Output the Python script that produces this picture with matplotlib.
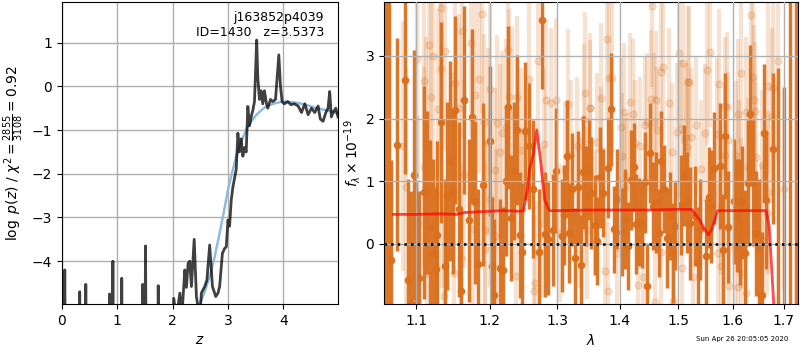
import matplotlib
matplotlib.use('Agg')
import matplotlib.pyplot as plt
import numpy as np

# ---- left panel: log p(z) ----
z_grid = [0.00, 0.04, 0.05, 0.06, 0.31, 0.32, 0.33, 0.42, 0.43, 0.44,
          0.85, 0.86, 0.87, 0.91, 0.92, 0.93, 1.07, 1.08, 1.09,
          1.45, 1.46, 1.47, 1.50, 1.51, 1.52, 1.73, 1.74, 1.75,
          1.99, 2.02, 2.07, 2.13, 2.17, 2.22, 2.25, 2.28, 2.31, 2.34, 2.39,
          2.43, 2.49, 2.52, 2.58, 2.62, 2.67, 2.72, 2.78, 2.82, 2.85, 2.90,
          2.94, 2.97, 3.00, 3.03, 3.06, 3.09, 3.12, 3.15, 3.18, 3.21, 3.24,
          3.27, 3.30, 3.33, 3.36, 3.39, 3.42, 3.45, 3.48, 3.52, 3.54, 3.57,
          3.60, 3.63, 3.66, 3.69, 3.72, 3.77, 3.81, 3.86, 3.89, 3.92, 3.95,
          3.98, 4.02, 4.08, 4.14, 4.20, 4.27, 4.33, 4.39, 4.45, 4.51, 4.57,
          4.63, 4.67, 4.72, 4.77, 4.81, 4.84, 4.87, 4.90, 4.95, 4.99]
logpz = [-6.0, -6.0, -4.2, -6.0, -6.0, -4.7, -6.0, -6.0, -4.53, -6.0,
         -6.0, -4.75, -6.0, -6.0, -4.0, -6.0, -6.0, -4.39, -6.0,
         -6.0, -4.53, -6.0, -6.0, -3.65, -6.0, -6.0, -4.56, -6.0,
         -6.0, -4.85, -5.3, -4.73, -5.2, -4.2, -4.6, -4.05, -4.0, -4.58, -3.5,
         -4.81, -5.3, -4.73, -4.58, -4.43, -3.63, -4.58, -4.81, -4.73, -4.58, -3.82,
         -3.71, -3.67, -3.06, -3.2, -2.6, -2.3, -2.1, -1.9, -1.07, -1.5, -1.2,
         -1.6, -1.4, -1.5, -0.46, -0.9, -0.7, -0.55, -0.35, 1.06, 0.2, -0.3,
         -0.1, -0.4, -0.1, -0.35, -0.5, -0.3, -0.35, -0.3, 0.2, 0.72, 0.0,
         -0.35, -0.4, -0.35, -0.42, -0.4, -0.45, -0.6, -0.4, -0.65, -0.5, -0.6,
         -0.45, -0.75, -0.8, -0.6, -0.5, -0.12, -0.7, -0.6, -0.5, -0.7]

z_smooth = [2.45, 2.49, 2.58, 2.67, 2.76, 2.85, 2.93, 3.00, 3.07, 3.15,
            3.24, 3.33, 3.42, 3.51, 3.60, 3.69, 3.84, 3.99, 4.15, 4.30,
            4.45, 4.60, 4.80, 4.99]
logp_smooth = [-5.3, -4.98, -4.7, -4.35, -3.9, -3.36, -2.85, -2.37, -2.0, -1.6,
               -1.27, -1.0, -0.8, -0.66, -0.55, -0.46, -0.39, -0.35, -0.36, -0.39,
               -0.44, -0.5, -0.55, -0.62]

# ---- right panel: spectrum ----
wave_a = [1.0610, 1.0650,
          1.0683, 1.0759, 1.0861, 1.0900, 1.0931, 1.0974, 1.0996, 1.1039, 1.1105, 1.1148,
          1.1184, 1.1228, 1.1267, 1.1281, 1.1334, 1.1379, 1.1414, 1.1455, 1.1496, 1.1523,
          1.1570, 1.1605, 1.1647, 1.1716, 1.1757, 1.1799, 1.1841, 1.1911, 1.2001, 1.2029,
          1.2067, 1.2148, 1.2196, 1.2231, 1.2268, 1.2308, 1.2356, 1.2400, 1.2435, 1.2474,
          1.2518, 1.2573, 1.2637, 1.2723, 1.2772, 1.2813, 1.2854, 1.2939, 1.2980, 1.3067,
          1.3107, 1.3154, 1.3191, 1.3232, 1.3274, 1.3326, 1.3379, 1.3411, 1.3459, 1.3496,
          1.3528, 1.3592, 1.3636, 1.3684, 1.3726, 1.3807, 1.3851, 1.3905, 1.3950, 1.4044,
          1.4094, 1.4137, 1.4194, 1.4237, 1.4279, 1.4322, 1.4374, 1.4420, 1.4466, 1.4510,
          1.4562, 1.4614, 1.4660, 1.4707, 1.4752, 1.4805, 1.4857, 1.4910, 1.4952, 1.5059,
          1.5105, 1.5154, 1.5213, 1.5298, 1.5357, 1.5393, 1.5510, 1.5558, 1.5602, 1.5651,
          1.5756, 1.5818, 1.5863, 1.5911, 1.6025, 1.6082, 1.6133, 1.6177, 1.6229, 1.6292,
          1.6338, 1.6389, 1.6455, 1.6500, 1.6564, 1.6603, 1.6656, 1.6781,
          1.6890, 1.7000, 1.7120, 1.7240]
flux_a = [4.5, -1.5,
          -0.26, 1.58, 2.62, -0.57, -0.95, 1.10, -0.52, -0.55, 0.82, 0.82,
          0.25, -0.15, -0.40, 0.14, 1.94, -0.36, 0.77, 1.32, 0.82, 2.14,
          0.55, -0.75, 2.30, 0.38, 2.03, 0.66, -0.32, 0.94, 1.64, -0.36,
          -0.81, -0.39, -0.41, 1.01, 2.18, 0.41, 1.16, 1.82, 0.14, -0.13,
          1.80, 1.56, 0.88, -0.13, 3.57, 0.15, 0.08, 0.22, 1.17, 0.13,
          0.46, 1.40, 0.17, 0.87, -0.23, 0.90, -0.34, 1.14, 0.76, 1.18,
          0.81, 0.30, 0.04, 1.06, 0.81, 1.21, 2.15, 0.23, 0.71, 0.19,
          0.40, -0.03, 1.02, 1.23, 0.32, 0.35, 0.32, 0.98, -0.68, 1.45,
          0.60, 0.66, 0.17, 1.32, 0.87, 0.09, 0.44, -0.15, 0.29, 0.62,
          1.09, 0.66, 0.33, 0.44, -0.31, 0.23, -0.19, 0.74, 0.60, 1.21,
          1.24, -0.10, 1.72, 0.27, 0.68, 0.45, 0.35, 0.66, -0.14, 0.97,
          2.07, 0.97, 0.17, -0.07, -0.81, 1.77, 0.70, 1.52,
          -1.5, -2.0, -2.0, -2.0]
err_a = [6.0, 6.0,
         1.6, 1.7, 1.5, 1.6, 1.8, 2.0, 1.5, 1.4, 1.7, 1.3,
         1.4, 1.5, 1.3, 1.5, 1.6, 1.4, 1.5, 1.6, 1.3, 1.5,
         1.4, 1.3, 1.5, 1.3, 1.4, 1.3, 1.2, 1.3, 1.2, 1.1,
         1.2, 1.1, 1.0, 1.2, 1.3, 1.0, 1.1, 1.2, 1.0, 1.1,
         1.1, 1.0, 1.1, 1.0, 1.1, 1.0, 0.9, 0.9, 1.0, 0.9,
         0.8, 0.9, 0.8, 0.9, 0.8, 0.9, 0.8, 0.9, 0.8, 0.8,
         0.9, 0.8, 0.7, 0.8, 0.7, 0.8, 0.9, 0.7, 0.8, 0.7,
         0.8, 0.7, 0.8, 0.7, 0.8, 0.7, 0.7, 0.8, 0.7, 0.8,
         0.7, 0.8, 0.7, 0.8, 0.7, 0.8, 0.7, 0.8, 0.7, 0.8,
         0.8, 0.8, 0.9, 0.8, 0.9, 0.8, 0.9, 0.8, 0.9, 0.9,
         1.0, 0.9, 1.0, 0.9, 1.0, 0.9, 1.0, 0.9, 1.0, 1.0,
         1.1, 1.0, 1.0, 1.1, 1.0, 1.1, 1.1, 1.2,
         4.3, 4.5, 7.0, 7.0]

wave_b = [1.1334, 1.1897, 1.1619, 1.1743, 1.1170, 1.1379, 1.1228, 1.1017, 1.1326, 1.1855,
          1.1105, 1.1514, 1.1201, 1.1799, 1.1290, 1.1578, 1.1921, 1.1977, 1.0826, 1.1131,
          1.1110, 1.1643, 1.1496, 1.1343, 1.1939, 1.1771, 1.1030, 1.1930, 1.1605, 1.1505,
          1.1140, 1.1370, 1.0866,
          1.2001, 1.2268, 1.2278, 1.2391, 1.2318, 1.2101, 1.2182, 1.2231, 1.2455, 1.2148,
          1.2076, 1.2005, 1.2573, 1.2703, 1.2802, 1.2828, 1.2904, 1.2985, 1.3169, 1.3443,
          1.3512, 1.3421, 1.3316, 1.3222, 1.3118, 1.3448, 1.3353, 1.3042, 1.2772, 1.2662,
          1.2652, 1.2376, 1.2096, 1.2465,
          1.3797, 1.3819, 1.3873, 1.3689, 1.3517, 1.4545, 1.4734, 1.4694, 1.5094, 1.5024,
          1.5178, 1.4522, 1.4614, 1.4846, 1.4171, 1.4067, 1.4217, 1.4466, 1.4574, 1.4420,
          1.4638, 1.4340, 1.4249, 1.4027, 1.4035, 1.3620, 1.3700, 1.4116, 1.4094, 1.4893,
          1.5059, 1.4977, 1.5143, 1.3592, 1.3475, 1.3807, 1.4592, 1.4910, 1.4397, 1.3962,
          1.4305, 1.4700, 1.5065, 1.3754,
          1.6357, 1.5577, 1.5529, 1.6165, 1.6400, 1.5202, 1.5737, 1.6681, 1.6789, 1.6890,
          1.5863, 1.5901, 1.6411, 1.6267, 1.6437, 1.6101, 1.6763, 1.5321, 1.5480, 1.5700,
          1.5911, 1.5226, 1.5850, 1.6070, 1.6445, 1.6292, 1.5407, 1.6114, 1.7000, 1.6688,
          1.6564, 1.5166, 1.5788, 1.6170, 1.6669, 1.5725, 1.6039, 1.6570, 1.5274, 1.5776,
          1.6160, 1.5937, 1.6105, 1.6267]
flux_b = [3.76, 3.67, 3.39, 3.20, 3.18, 3.08, 3.00, 2.95, 2.79, 2.63,
          2.60, 2.56, 2.34, 2.38, 2.15, 2.16, 1.95, 1.63, 1.56, 1.60,
          1.23, 1.12, 1.13, 0.80, 0.22, 0.24, 0.34, -0.09, -0.23, -0.47,
          -0.47, -0.83, 0.91,
          2.47, 3.09, 2.35, 2.34, 2.06, 1.93, 1.77, 1.87, 1.50, 1.47,
          1.18, 0.71, 2.63, 2.92, 1.60, 2.29, 2.24, 2.30, 2.23, 2.40,
          2.16, 1.99, 1.56, 1.42, 1.18, 0.77, 0.49, 0.17, 0.34, -0.62,
          -0.76, -0.51, 0.12, 0.54,
          3.27, 2.64, 2.64, 2.32, 2.16, 3.80, 2.83, 2.74, 2.89, 3.05,
          2.59, 2.31, 2.30, 2.24, 2.26, 2.10, 2.07, 1.94, 1.94, 1.89,
          1.82, 1.56, 1.61, 1.86, 1.40, 1.63, 1.50, 1.09, 0.91, 1.47,
          1.83, 1.78, 1.69, 0.49, 0.22, -0.75, -0.92, -0.91, -0.53, -0.15,
          -0.65, -0.13, -0.39, -0.44,
          3.65, 3.06, 2.78, 2.72, 2.66, 2.59, 2.55, 2.52, 2.48, 2.92,
          2.20, 2.18, 2.30, 2.10, 2.12, 2.07, 2.04, 1.89, 1.77, 1.76,
          1.65, 1.70, 1.42, 1.40, 1.39, 1.23, 1.19, 1.10, 0.87, 0.82,
          1.26, 1.55, 0.60, 0.49, 0.49, -0.15, -0.05, 0.07, -0.53, -0.36,
          -0.46, -0.68, -0.69, -0.79]
err_b = [1.8, 1.6, 1.7, 1.5, 1.8, 1.6, 1.7, 1.9, 1.6, 1.5,
         1.8, 1.6, 1.7, 1.5, 1.6, 1.5, 1.4, 1.5, 2.0, 1.7,
         1.6, 1.5, 1.6, 1.5, 1.4, 1.5, 1.7, 1.4, 1.5, 1.5,
         1.6, 1.5, 1.9,
         1.4, 1.5, 1.4, 1.3, 1.4, 1.4, 1.3, 1.4, 1.3, 1.4,
         1.3, 1.4, 1.3, 1.4, 1.2, 1.3, 1.2, 1.3, 1.2, 1.3,
         1.2, 1.2, 1.1, 1.2, 1.1, 1.1, 1.2, 1.1, 1.2, 1.3,
         1.2, 1.3, 1.4, 1.3,
         1.3, 1.2, 1.2, 1.2, 1.1, 1.3, 1.2, 1.2, 1.3, 1.2,
         1.2, 1.1, 1.1, 1.2, 1.1, 1.1, 1.2, 1.1, 1.1, 1.1,
         1.0, 1.1, 1.0, 1.1, 1.0, 1.1, 1.0, 1.0, 1.1, 1.1,
         1.1, 1.1, 1.2, 1.0, 1.1, 1.1, 1.0, 1.1, 1.0, 1.1,
         1.0, 1.1, 1.1, 1.0,
         1.3, 1.2, 1.2, 1.3, 1.2, 1.2, 1.2, 1.4, 1.5, 1.6,
         1.1, 1.2, 1.2, 1.2, 1.1, 1.2, 1.4, 1.1, 1.1, 1.2,
         1.1, 1.1, 1.1, 1.2, 1.2, 1.1, 1.1, 1.2, 1.6, 1.3,
         1.2, 1.1, 1.1, 1.2, 1.3, 1.1, 1.2, 1.2, 1.1, 1.1,
         1.2, 1.1, 1.2, 1.2]

wave_model = [1.071, 1.100, 1.130, 1.154, 1.165, 1.200, 1.220, 1.245, 1.249, 1.255,
              1.258, 1.264, 1.269, 1.275, 1.281, 1.288, 1.300, 1.350, 1.400, 1.450,
              1.500, 1.524, 1.539, 1.547, 1.555, 1.562, 1.572, 1.600, 1.640, 1.665,
              1.671, 1.680, 1.685]
flux_model = [0.47, 0.47, 0.48, 0.47, 0.50, 0.52, 0.53, 0.52, 0.53, 0.86,
              1.18, 1.45, 1.82, 1.30, 0.70, 0.53, 0.53, 0.54, 0.54, 0.54,
              0.55, 0.55, 0.38, 0.25, 0.14, 0.25, 0.53, 0.53, 0.53, 0.53,
              0.28, -0.96, -1.30]

lam_ticks = [1.1, 1.2, 1.3, 1.4, 1.5, 1.6, 1.7]

orange = '#da701e'

fig = plt.figure(figsize=(8, 3.5), dpi=100)
ax1 = fig.add_axes([0.0775, 0.1314, 0.345, 0.863])
ax2 = fig.add_axes([0.48, 0.1314, 0.5175, 0.863])

# left
ax1.plot(z_smooth, logp_smooth, color='#8ebcdf', linewidth=1.8, zorder=3)
ax1.plot(z_grid, logpz, color='k', alpha=0.75, linewidth=2, zorder=4)
ax1.set_xlim(0, 4.99)
ax1.set_ylim(-4.98, 1.93)
ax1.set_xticks([0, 1, 2, 3, 4])
ax1.set_yticks([-4, -3, -2, -1, 0, 1])
ax1.grid(True, color='#b0b0b0', linewidth=1)
ax1.set_xlabel('$z$')
ax1.set_ylabel(r'$\log\ p(z)$ / $\chi^2=\frac{2855}{3108}=0.92$')
ax1.text(0.95, 0.97, 'j163852p4039\nID=1430   z=3.5373', transform=ax1.transAxes,
         ha='right', va='top', fontsize=9)

# right
ax2.errorbar(wave_b, flux_b, yerr=err_b, color=orange, marker='o', markersize=5,
             linestyle='none', elinewidth=3, alpha=0.2, zorder=1)
ax2.errorbar(wave_a, flux_a, yerr=err_a, color=orange, marker='o', markersize=4.5,
             linestyle='none', elinewidth=2.5, alpha=0.95, zorder=2)
ax2.plot(wave_model, flux_model, color='r', alpha=0.7, linewidth=2, zorder=5)
ax2.axhline(0, color='k', linestyle=':', linewidth=1.8, zorder=6)
ax2.set_xscale('log')
ax2.set_xlim(1.059, 1.729)
ax2.set_ylim(-0.96, 3.86)
ax2.set_xticks(lam_ticks)
ax2.set_xticklabels(['%.1f' % t for t in lam_ticks])
ax2.minorticks_off()
ax2.set_yticks([0, 1, 2, 3])
ax2.grid(True, color='#b0b0b0', linewidth=1, zorder=10)
ax2.set_axisbelow(False)
ax2.set_xlabel(r'$\lambda$')
ax2.set_ylabel(r'$f_\lambda\times10^{-19}$', labelpad=2)

fig.text(0.985, 0.022, 'Sun Apr 26 20:05:05 2020', ha='right', va='bottom', fontsize=5)

plt.savefig('out.png', dpi=100)
